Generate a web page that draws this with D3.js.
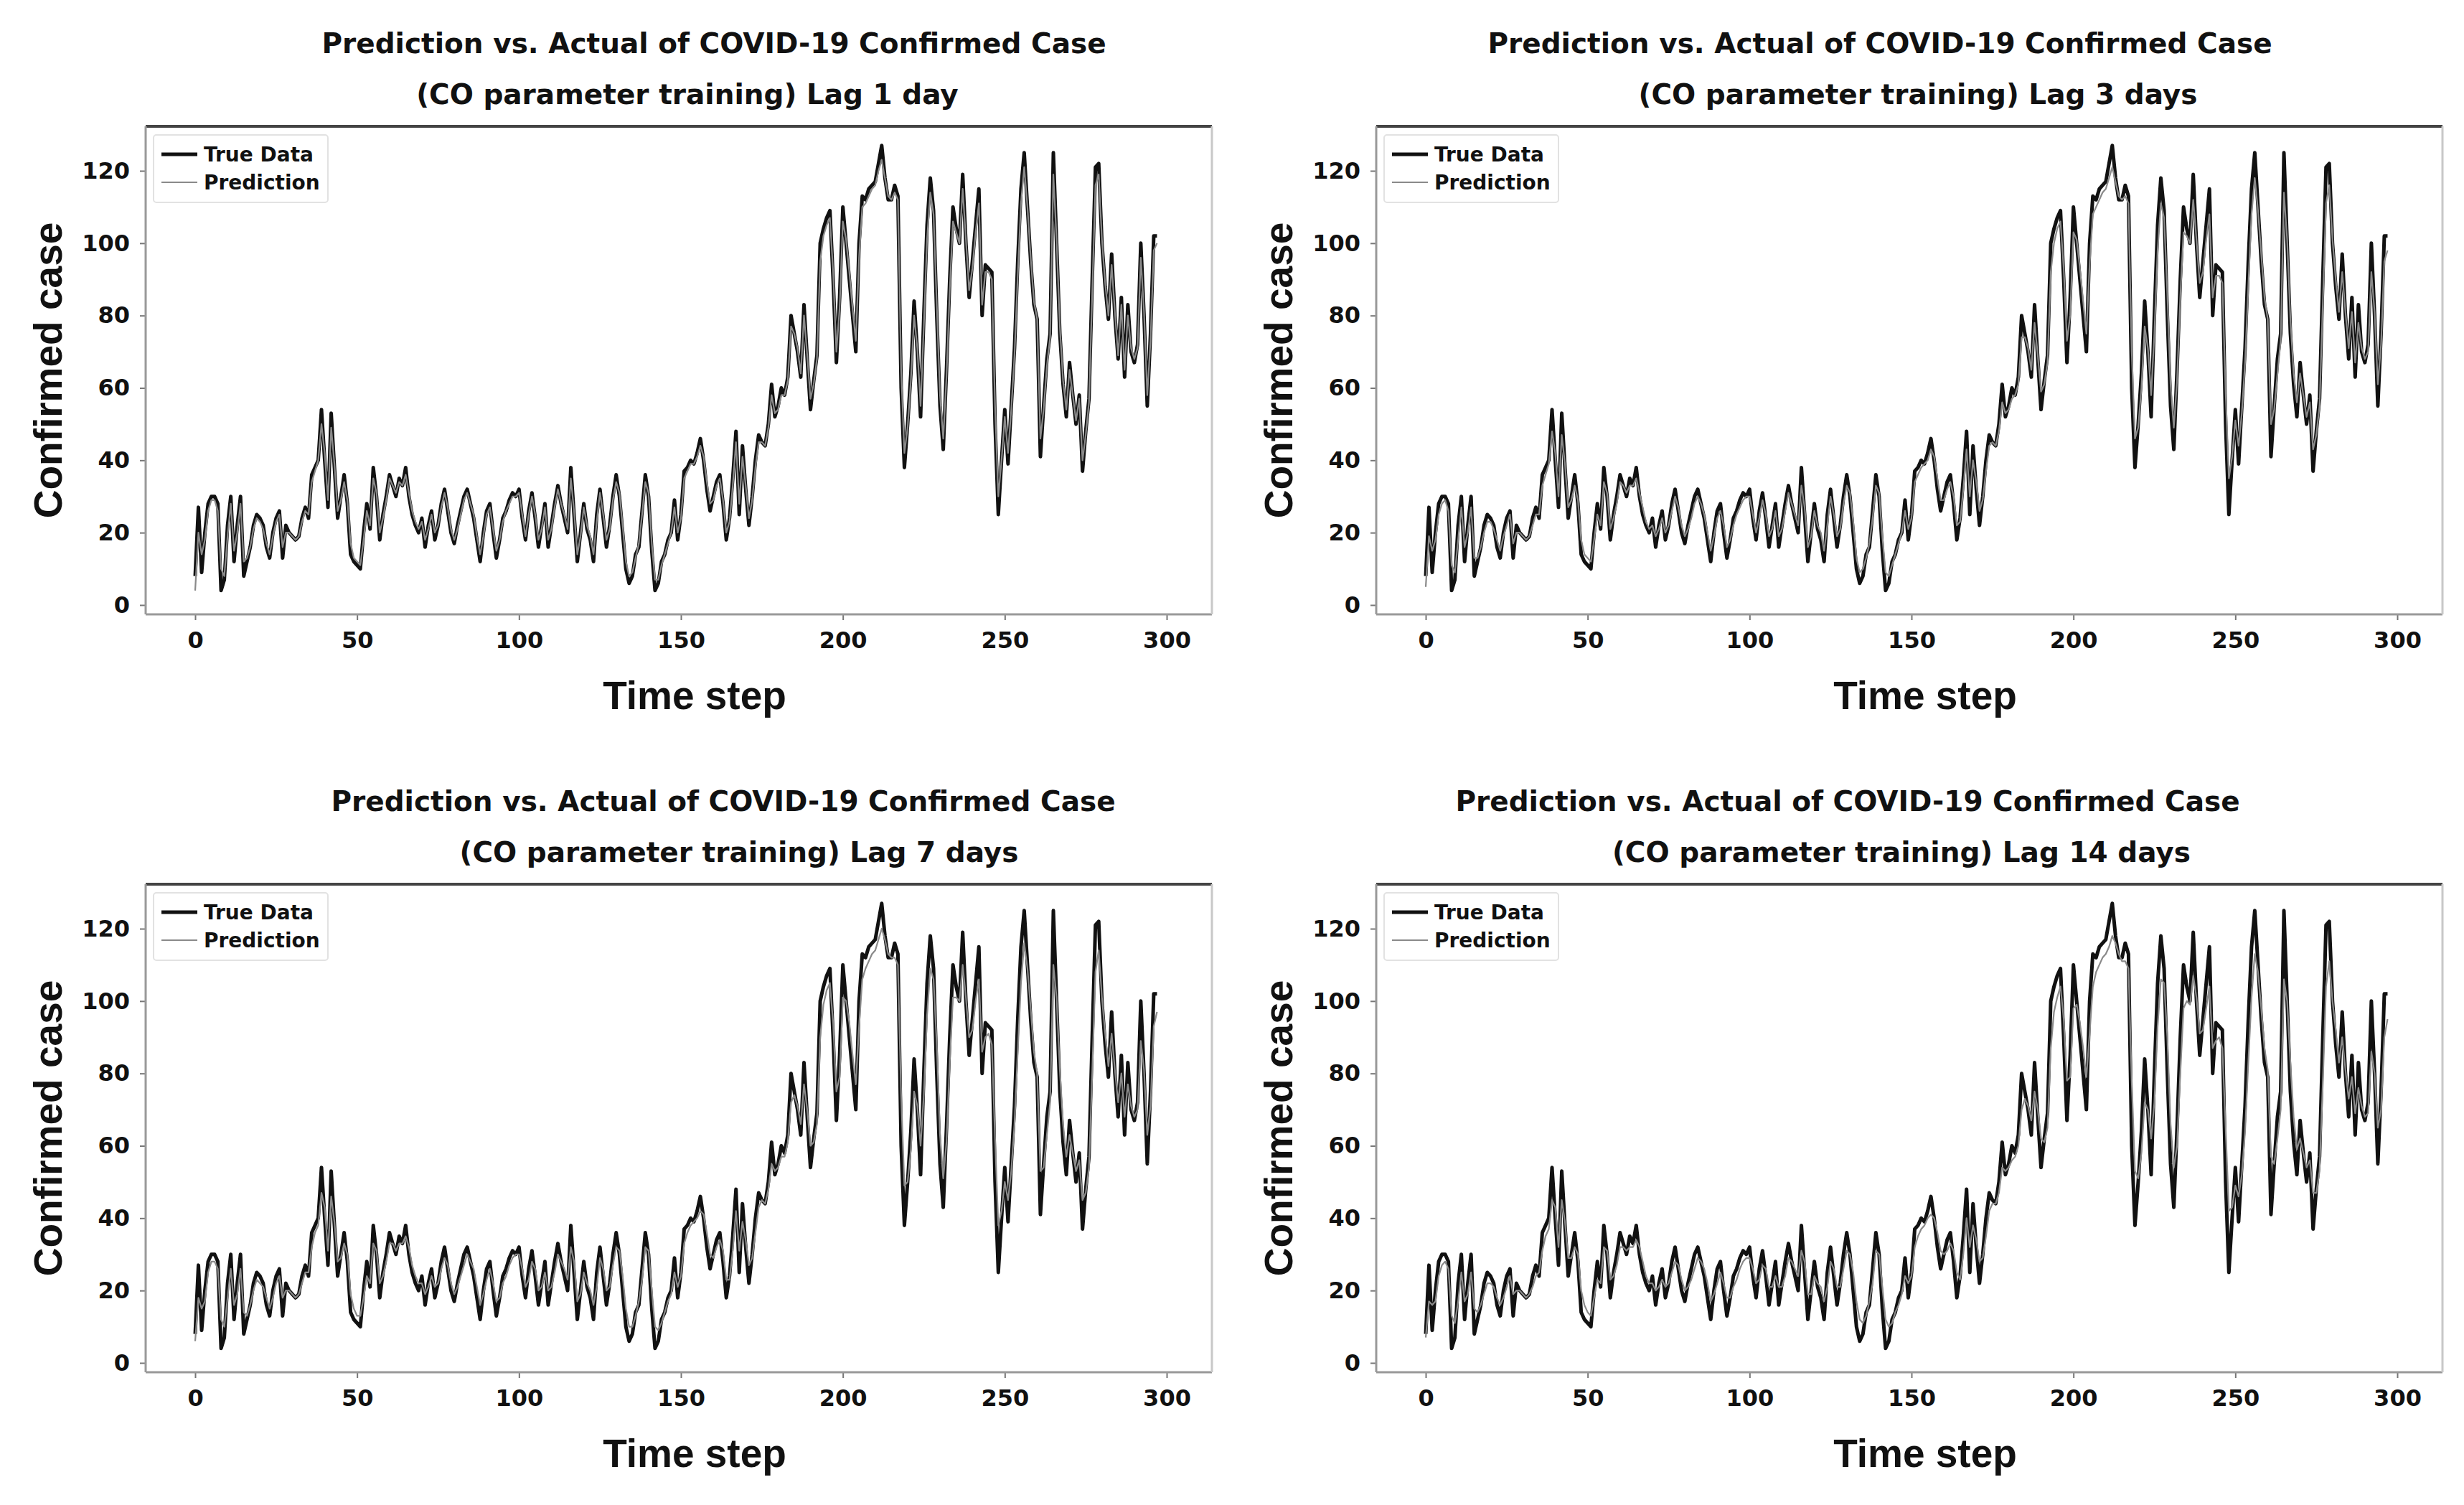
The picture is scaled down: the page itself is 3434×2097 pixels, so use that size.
<!DOCTYPE html>
<html>
<head>
<meta charset="utf-8">
<script src="https://cdn.jsdelivr.net/npm/d3@7"></script>
<style>
  body { margin: 0; background: #fff; }
</style>
</head>
<body>
<div id="chart"></div>
<script>
// daily confirmed cases (index = time step)
const trueData = [
  8,27,9,20,28,30,30,28,4,7,
  22,30,12,22,30,8,12,16,22,25,
  24,22,16,13,20,24,26,13,22,20,
  19,18,19,24,27,24,36,38,40,54,
  40,27,53,38,24,30,36,28,14,12,
  11,10,20,28,21,38,30,18,25,30,
  36,33,30,35,33,38,30,25,22,20,
  24,16,22,26,18,22,28,32,26,20,
  17,22,26,30,32,28,24,18,12,20,
  26,28,20,13,18,24,26,29,31,30,
  32,24,18,26,31,24,16,22,28,16,
  22,28,33,28,24,20,38,25,12,20,
  28,21,18,12,25,32,24,16,22,30,
  36,30,20,10,6,8,14,16,26,36,
  30,15,4,6,12,14,18,20,29,18,
  25,37,38,40,39,42,46,40,32,26,
  30,34,36,28,18,24,35,48,25,44,
  32,22,30,40,47,45,44,50,61,52,
  55,60,58,63,80,75,70,63,83,68,
  54,62,69,100,104,107,109,90,67,85,
  110,100,90,80,70,100,113,112,115,116,
  117,122,127,118,112,112,116,113,60,38,
  50,64,84,70,52,80,105,118,109,80,
  55,43,65,90,110,104,100,119,100,85,
  95,105,115,80,94,93,92,50,25,40,
  54,39,55,71,95,115,125,110,95,83,
  79,41,55,68,75,125,100,75,61,52,
  67,58,50,58,37,48,57,90,121,122,
  100,88,79,97,80,68,85,63,83,70,
  67,72,100,80,55,75,102,102
];

const predLag1 = [
  4,20,14,18,26,29,29,26,10,8,
  19,28,15,20,28,12,13,16,21,24,
  23,21,17,14,19,23,25,16,20,20,
  19,18,19,23,26,25,34,37,40,50,
  42,29,49,39,26,29,34,29,17,13,
  12,11,18,26,22,35,31,20,24,29,
  35,33,31,34,33,36,31,26,23,21,
  23,18,21,25,20,22,27,31,27,21,
  18,21,25,29,31,28,25,19,14,19,
  25,27,21,15,18,23,26,28,30,30,
  31,25,19,25,30,25,18,21,27,18,
  21,27,32,28,25,21,35,26,14,19,
  27,22,19,14,23,31,25,18,21,29,
  34,31,22,12,8,9,13,17,25,34,
  31,17,7,7,11,14,17,20,27,20,
  24,35,37,39,39,41,44,41,34,28,
  29,33,35,29,20,23,33,45,28,41,
  33,24,29,38,45,45,44,49,58,53,
  54,58,58,62,77,75,71,64,80,69,
  57,61,68,95,102,105,107,92,70,82,
  106,101,92,82,73,96,110,111,113,115,
  116,120,123,118,113,112,114,112,65,42,
  49,62,80,71,55,77,101,114,108,83,
  58,46,63,87,106,103,100,115,101,87,
  93,103,111,83,92,92,90,55,30,40,
  52,42,54,69,91,111,121,110,96,84,
  79,46,54,66,74,119,101,77,62,54,
  65,58,51,57,40,47,56,86,116,119,
  101,89,80,94,81,69,83,65,80,71,
  68,71,96,81,58,73,98,100
];

const predLag3 = [
  5,19,15,18,25,28,29,26,11,9,
  18,27,16,20,27,13,13,16,20,23,
  23,21,18,15,19,22,25,17,20,20,
  19,18,19,22,25,25,33,36,39,48,
  42,30,47,39,27,29,33,29,18,14,
  13,12,18,25,22,34,31,21,24,28,
  34,33,31,33,33,35,31,27,23,21,
  22,19,21,24,20,22,26,30,27,22,
  19,21,24,28,30,28,25,20,15,19,
  24,26,22,16,18,22,25,27,29,30,
  30,25,20,24,29,25,19,21,26,19,
  21,26,31,28,25,22,33,27,16,19,
  26,22,20,15,22,30,25,19,21,28,
  33,31,23,13,9,10,13,17,24,33,
  31,19,9,8,11,14,17,20,26,21,
  24,34,36,38,39,40,43,41,35,29,
  29,32,34,30,22,23,32,43,30,40,
  34,26,29,37,44,45,44,48,56,53,
  54,57,58,61,74,74,71,65,78,69,
  59,61,67,92,100,104,106,93,73,80,
  103,101,93,84,75,94,108,110,112,114,
  115,118,121,117,113,112,113,111,70,46,
  49,60,77,71,58,75,98,111,107,86,
  61,49,62,85,103,102,100,112,101,89,
  92,101,108,85,91,91,89,59,35,41,
  51,44,53,67,88,108,118,109,97,85,
  79,50,54,64,73,114,101,79,64,56,
  64,58,52,56,43,47,55,83,111,116,
  101,90,81,92,81,71,81,67,78,71,
  68,70,92,81,61,72,95,98
];

const predLag7 = [
  6,18,15,17,25,28,28,26,12,10,
  18,26,16,19,26,14,13,16,20,23,
  22,21,18,15,18,22,24,18,20,20,
  19,18,19,22,25,25,32,36,38,47,
  43,31,46,39,28,29,33,30,19,15,
  13,13,18,24,22,33,31,22,24,28,
  33,33,31,33,33,35,32,27,24,22,
  22,19,21,24,21,22,26,29,27,22,
  19,21,24,27,30,28,26,21,16,19,
  23,26,22,17,18,22,24,27,29,30,
  30,26,21,23,28,26,20,21,25,20,
  21,25,30,28,26,23,32,28,17,19,
  25,22,20,16,21,29,26,20,21,27,
  32,31,24,15,10,10,13,17,23,32,
  31,20,10,9,11,14,17,19,25,21,
  24,33,36,38,39,40,42,41,36,30,
  29,32,34,31,23,23,31,42,31,39,
  34,27,29,36,43,45,44,48,55,53,
  54,57,57,61,72,74,71,66,77,70,
  60,61,66,90,99,103,105,94,75,79,
  101,100,94,85,77,93,106,109,111,113,
  114,117,120,117,113,112,112,110,74,49,
  50,59,75,71,60,74,96,109,106,88,
  63,51,61,83,101,101,100,110,101,90,
  92,100,106,86,90,91,88,62,38,42,
  50,45,53,66,86,105,116,109,98,86,
  80,53,54,63,72,110,101,81,66,57,
  63,58,53,56,45,47,54,80,108,114,
  101,91,82,91,81,72,80,68,77,71,
  68,70,89,81,63,71,93,97
];

const predLag14 = [
  7,17,16,17,24,27,28,26,13,11,
  17,25,17,19,25,15,14,16,19,22,
  22,21,18,16,18,21,24,19,20,20,
  19,18,19,21,24,25,31,35,37,45,
  43,32,45,39,29,29,32,30,20,16,
  14,13,18,23,22,32,31,23,24,27,
  32,32,31,32,32,34,32,28,24,22,
  22,20,21,23,21,22,25,28,27,23,
  20,21,23,26,29,28,26,22,17,19,
  22,25,22,18,18,21,23,26,28,29,
  29,26,22,23,27,26,21,21,24,21,
  21,24,29,28,26,24,31,28,19,19,
  24,22,21,17,21,28,26,21,21,26,
  31,30,25,17,12,11,13,17,22,31,
  30,21,12,10,11,14,16,19,24,22,
  24,32,35,37,38,40,41,40,36,31,
  30,31,33,31,25,23,30,40,32,38,
  34,28,29,35,42,44,44,47,54,53,
  54,56,57,60,70,73,71,67,75,70,
  62,61,65,87,97,101,104,95,78,79,
  98,99,94,87,79,91,104,108,110,112,
  113,115,118,116,113,111,111,109,78,53,
  51,58,72,70,62,72,93,106,105,90,
  66,54,60,80,98,100,99,107,101,91,
  92,98,104,87,89,90,87,65,42,43,
  49,46,52,64,83,101,113,108,98,87,
  81,57,55,62,70,106,100,83,68,59,
  62,58,54,56,47,47,53,77,104,111,
  100,92,83,90,81,73,79,69,76,71,
  68,69,86,80,65,70,90,95
];

const lagLabels = ["Lag 1 day", "Lag 3 days", "Lag 7 days", "Lag 14 days"];
const xTicks = [0, 50, 100, 150, 200, 250, 300];
const yTicks = [0, 20, 40, 60, 80, 100, 120];
const seriesNames = ["True Data", "Prediction"];

const width = 3434;
const height = 2097;
const dejavu = '"DejaVu Sans", sans-serif';
const arial = '"Liberation Sans", Arial, sans-serif';

const svg = d3.select('#chart')
  .append('svg')
  .attr('width', width)
  .attr('height', height);

svg.append('rect')
  .attr('width', width)
  .attr('height', height)
  .attr('fill', '#fff');

// plot box of one panel (top-left one), other panels are shifted copies
const box = { left: 203, right: 1689, top: 176, bottom: 856 };

const x = d3.scaleLinear()
  .domain([0, 300])
  .range([272, 1626]);

const y = d3.scaleLinear()
  .domain([0, 120])
  .range([843, 238]);

const line = d3.line()
  .x((d, i) => x(i))
  .y(d => y(d));

// t1/t2: centre of the two title lines, they are not quite centred in the source
const panels = [
  { dx: 0,    dy: 0,    pred: predLag1,  lag: lagLabels[0], t1: 995, t2: 958 },
  { dx: 1715, dy: 0,    pred: predLag3,  lag: lagLabels[1], t1: 905, t2: 958 },
  { dx: 0,    dy: 1056, pred: predLag7,  lag: lagLabels[2], t1: 1008, t2: 1030 },
  { dx: 1715, dy: 1056, pred: predLag14, lag: lagLabels[3], t1: 860, t2: 935 }
];

panels.forEach(p => {
  const g = svg.append('g')
    .attr('transform', `translate(${p.dx},${p.dy})`);

  // title
  const title = g.append('text')
    .attr('text-anchor', 'middle')
    .attr('font-family', dejavu)
    .attr('font-weight', 'bold')
    .attr('font-size', 39)
    .attr('fill', '#111');
  title.append('tspan')
    .attr('x', p.t1).attr('y', 74)
    .text('Prediction vs. Actual of COVID-19 Confirmed Case');
  title.append('tspan')
    .attr('x', p.t2).attr('y', 145)
    .text('(CO parameter training) ' + p.lag);

  // series
  g.append('path')
    .datum(trueData)
    .attr('d', line)
    .attr('fill', 'none')
    .attr('stroke', '#111')
    .attr('stroke-width', 5)
    .attr('stroke-linejoin', 'round');

  g.append('path')
    .datum(p.pred)
    .attr('d', line)
    .attr('fill', 'none')
    .attr('stroke', '#8a8a8a')
    .attr('stroke-width', 2.2)
    .attr('stroke-linejoin', 'round');

  // axes
  const xAxis = g.append('g')
    .attr('transform', `translate(0,${box.bottom})`)
    .call(d3.axisBottom(x).tickValues(xTicks).tickSize(8).tickPadding(16));
  xAxis.select('.domain').remove();
  xAxis.selectAll('line').attr('stroke', '#777').attr('stroke-width', 2);
  xAxis.selectAll('text')
    .attr('font-family', dejavu)
    .attr('font-weight', 'bold')
    .attr('font-size', 32)
    .attr('fill', '#111');

  const yAxis = g.append('g')
    .attr('transform', `translate(${box.left},0)`)
    .call(d3.axisLeft(y).tickValues(yTicks).tickSize(8).tickPadding(14));
  yAxis.select('.domain').remove();
  yAxis.selectAll('line').attr('stroke', '#777').attr('stroke-width', 2);
  yAxis.selectAll('text')
    .attr('font-family', dejavu)
    .attr('font-weight', 'bold')
    .attr('font-size', 32)
    .attr('fill', '#111');

  // frame
  g.append('line')
    .attr('x1', box.left).attr('x2', box.right)
    .attr('y1', box.top).attr('y2', box.top)
    .attr('stroke', '#444').attr('stroke-width', 4);
  g.append('line')
    .attr('x1', box.left).attr('x2', box.right)
    .attr('y1', box.bottom).attr('y2', box.bottom)
    .attr('stroke', '#999').attr('stroke-width', 3);
  g.append('line')
    .attr('x1', box.left).attr('x2', box.left)
    .attr('y1', box.top).attr('y2', box.bottom)
    .attr('stroke', '#999').attr('stroke-width', 3);
  g.append('line')
    .attr('x1', box.right).attr('x2', box.right)
    .attr('y1', box.top).attr('y2', box.bottom)
    .attr('stroke', '#c8c8c8').attr('stroke-width', 3);

  // axis labels
  g.append('text')
    .attr('x', 968).attr('y', 988)
    .attr('text-anchor', 'middle')
    .attr('font-family', arial)
    .attr('font-weight', 'bold')
    .attr('font-size', 55)
    .attr('fill', '#111')
    .text('Time step');

  g.append('text')
    .attr('transform', `translate(86,${(box.top + box.bottom) / 2}) rotate(-90)`)
    .attr('text-anchor', 'middle')
    .attr('font-family', arial)
    .attr('font-weight', 'bold')
    .attr('font-size', 55)
    .attr('fill', '#111')
    .text('Confirmed case');

  // legend
  const leg = g.append('g');
  leg.append('rect')
    .attr('x', 214).attr('y', 188)
    .attr('width', 243).attr('height', 94)
    .attr('fill', '#fff')
    .attr('stroke', '#e2e2e2')
    .attr('stroke-width', 2)
    .attr('rx', 4);
  seriesNames.forEach((name, i) => {
    const ly = 215 + i * 39;
    leg.append('line')
      .attr('x1', 225).attr('x2', 275)
      .attr('y1', ly).attr('y2', ly)
      .attr('stroke', i === 0 ? '#111' : '#8a8a8a')
      .attr('stroke-width', i === 0 ? 5 : 2.2);
    leg.append('text')
      .attr('x', 284).attr('y', ly + 10)
      .attr('font-family', dejavu)
      .attr('font-weight', 'bold')
      .attr('font-size', 28)
      .attr('fill', '#111')
      .text(name);
  });
});
</script>
</body>
</html>
